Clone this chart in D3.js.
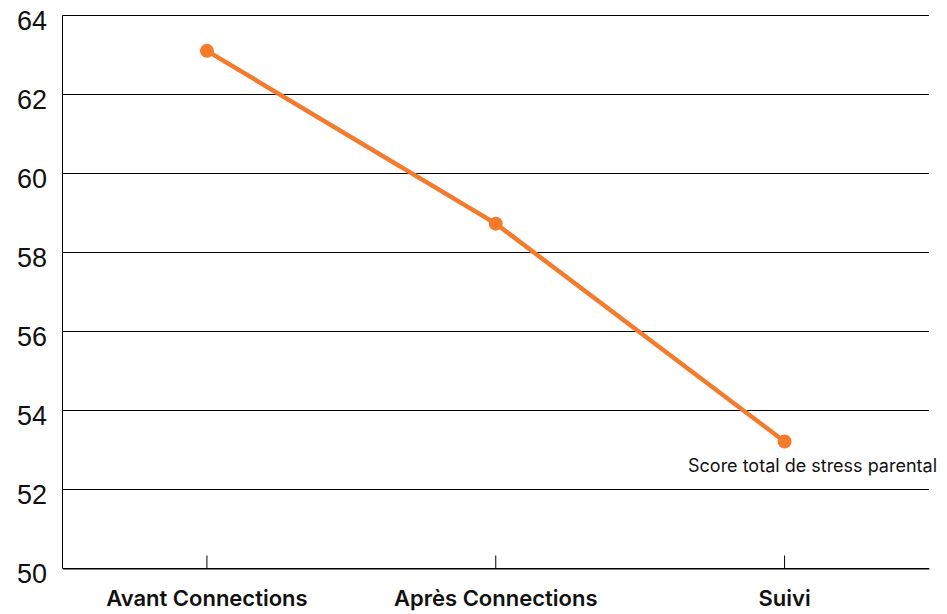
<!DOCTYPE html>
<html>
<head>
<meta charset="utf-8">
<script src="https://cdn.jsdelivr.net/npm/d3@7"></script>
<style>
  html, body { margin: 0; padding: 0; background: #fff; }
  svg { display: block; }
</style>
</head>
<body>
<svg id="chart" width="947" height="614"></svg>
<script>
// Parental stress total score at three time points
const categories = ["Avant Connections", "Après Connections", "Suivi"];
const scores = [63.08, 58.71, 53.2];
const yTicks = [50, 52, 54, 56, 58, 60, 62, 64];
const seriesName = "Score total de stress parental";

const svg = d3.select("#chart");
const plotLeft = 62.5, plotRight = 929, plotTop = 14.5, plotBottom = 568;
const orange = "#F47B2B";

const x = d3.scaleBand().domain(categories).range([plotLeft, plotRight]).padding(0);
const y = d3.scaleLinear().domain([50, 64]).range([plotBottom, plotTop]);
const cx = d => x(d) + x.bandwidth() / 2;

// horizontal gridlines
svg.append("g")
  .selectAll("line")
  .data(yTicks)
  .join("line")
  .attr("x1", plotLeft).attr("x2", plotRight)
  .attr("y1", d => Math.round(y(d)) + 0.5)
  .attr("y2", d => Math.round(y(d)) + 0.5)
  .attr("stroke", "#000").attr("stroke-width", 1);

// left axis line
svg.append("line")
  .attr("x1", plotLeft).attr("x2", plotLeft)
  .attr("y1", Math.round(y(64)) + 0.5).attr("y2", Math.round(y(50)) + 0.5)
  .attr("stroke", "#000").attr("stroke-width", 1);

// y tick labels
svg.append("g")
  .selectAll("text")
  .data(yTicks)
  .join("text")
  .attr("x", 47)
  .attr("y", d => y(d) + 15)
  .attr("text-anchor", "end")
  .attr("font-family", "Liberation Sans, Arial, sans-serif")
  .attr("font-size", 27)
  .attr("fill", "#111")
  .text(d => d);

// bottom axis with inward ticks
const xAxis = d3.axisBottom(x).tickSizeInner(-13).tickSizeOuter(0).tickPadding(37.5);
const gx = svg.append("g")
  .attr("transform", `translate(0,${Math.round(y(50)) + 0.5})`)
  .call(xAxis);
gx.select(".domain").attr("stroke", "#000");
gx.selectAll(".tick line").attr("stroke", "#000");
gx.selectAll(".tick text")
  .attr("font-family", "Inter, sans-serif")
  .attr("font-weight", 600)
  .attr("font-size", 22)
  .attr("fill", "#111")
  .attr("dy", 0);

// series line
const line = d3.line()
  .x((d, i) => cx(categories[i]))
  .y(d => y(d));

svg.append("path")
  .datum(scores)
  .attr("d", line)
  .attr("fill", "none")
  .attr("stroke", orange)
  .attr("stroke-width", 4.5);

svg.append("g")
  .selectAll("circle")
  .data(scores)
  .join("circle")
  .attr("cx", (d, i) => cx(categories[i]))
  .attr("cy", d => y(d))
  .attr("r", 7)
  .attr("fill", orange);

// series label beside the last point
svg.append("text")
  .attr("x", 688)
  .attr("y", y(scores[scores.length - 1]) + 31)
  .attr("font-family", "Inter, sans-serif")
  .attr("font-size", 18)
  .attr("fill", "#111")
  .text(seriesName);
</script>
</body>
</html>
